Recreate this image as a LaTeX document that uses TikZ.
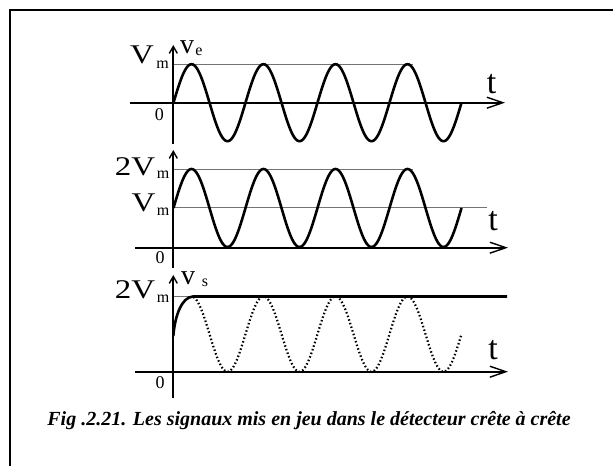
\documentclass[tikz,border=0pt]{standalone}
\usepackage{fontspec}
\usepackage{graphicx}
\setmainfont{Liberation Serif}
\usetikzlibrary{arrows.meta}
\newcommand{\wideT}[1]{\scalebox{1.22}[1]{#1}}
\begin{document}
\begin{tikzpicture}[x=1pt,y=-1pt,
  haxis/.style={line width=2pt,-{Straight Barb[length=16pt,width=11pt,line width=1.4pt]}},
  vaxis/.style={line width=2pt,-{Straight Barb[length=7pt,width=8pt,line width=1.4pt]}},
  curve/.style={line width=2.6pt,line join=round},
  dotcurve/.style={line width=2.2pt,dash pattern=on 1.5pt off 2.3pt},
  guide/.style={line width=1pt,draw=black!55},
  bigV/.style={inner sep=0pt,anchor=base,font=\fontsize{27}{31}\selectfont},
  smallv/.style={inner sep=0pt,anchor=base,font=\fontsize{28}{32}\selectfont},
  subm/.style={inner sep=0pt,anchor=base,font=\fontsize{16}{19}\selectfont},
  tlab/.style={inner sep=0pt,font=\fontsize{34}{38}\selectfont},
  zlab/.style={inner sep=0pt,font=\fontsize{18}{21}\selectfont}]
\useasboundingbox (0,0) rectangle (613,466);
% frame
\draw[line width=2pt] (613,9.5) -- (9.5,9.5) -- (9.5,466);

% ---------- plot 1 ----------
\draw[guide] (173.3,64.2) -- (413,64.2);
\draw[curve] plot[domain=0:1440,samples=241,smooth] ({173.5+\x/5},{102.7-38.5*sin(\x)});
\draw[haxis] (130,102.7) -- (505,102.7);
\draw[vaxis] (173.3,143.5) -- (173.3,45);
\node[bigV] (v1) at (142,63) {\wideT{V}};
\node[subm] (m1) at (162.5,68.5) {m};
\node[smallv] (ve) at (187,53) {v};
\node[subm] (ee) at (199,55.5) {e};
\node[zlab] (z1) at (159.3,115) {0};
\node[tlab] (t1) at (491.7,84) {t};

% ---------- plot 2 ----------
\draw[guide] (173.3,169) -- (413,169);
\draw[guide] (173.3,207.5) -- (487,207.5);
\draw[curve] plot[domain=0:1440,samples=241,smooth] ({173.5+\x/5},{208-39*sin(\x)});
\draw[haxis] (135,247.7) -- (508,247.7);
\draw[vaxis] (173.3,268) -- (173.3,150);
\node[bigV] (two2) at (135,175) {\wideT{2V}};
\node[subm] (m2) at (163,178.5) {m};
\node[bigV] (v2) at (143.5,211.5) {\wideT{V}};
\node[subm] (m3) at (163,215.5) {m};
\node[zlab] (z2) at (160,258) {0};
\node[tlab] (t2) at (493,221) {t};

% ---------- plot 3 ----------
\draw[guide] (173.3,296.5) -- (195,296.5);
\draw[dotcurve] plot[domain=100:1440,samples=241,smooth] ({173.5+\x/5},{334.1-37.6*sin(\x)});
\draw[curve] (173.3,336) .. controls (175,315) and (182,297) .. (193,296.5) -- (507,296.5);
\draw[haxis] (135,371.7) -- (508,371.7);
\draw[vaxis] (173.3,398) -- (173.3,275);
\node[bigV] (two3) at (135,298) {\wideT{2V}};
\node[subm] (m4) at (163,302.5) {m};
\node[smallv] (vs) at (188,284) {v};
\node[subm] (ss) at (205,286.5) {s};
\node[zlab] (z3) at (160,383) {0};
\node[tlab] (t3) at (493,350) {t};

% caption
\node[inner sep=0pt,font=\fontsize{20}{23}\selectfont\bfseries\itshape] (cap) at (309,421)
  {Fig .2.21. Les signaux mis en jeu dans le détecteur crête à crête};
\end{tikzpicture}
\end{document}
